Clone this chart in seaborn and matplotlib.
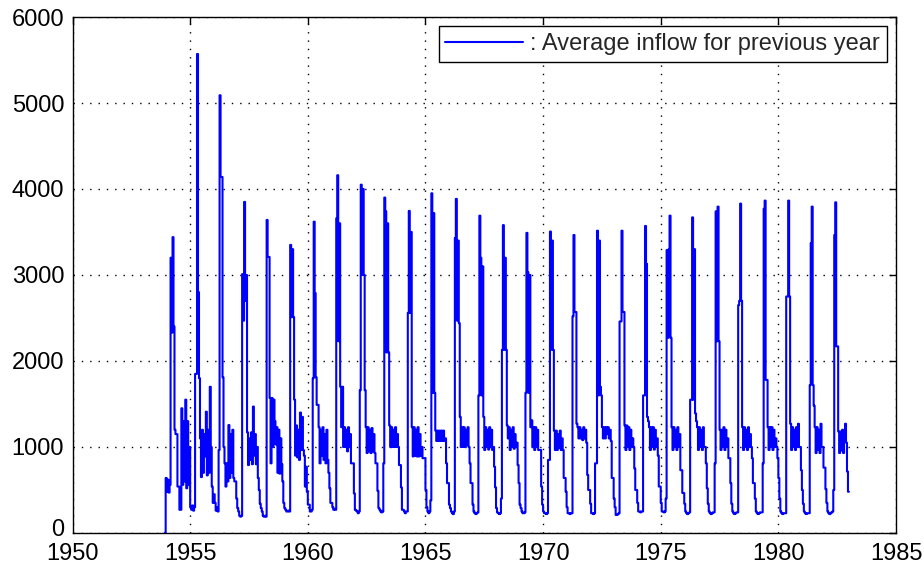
import numpy as np
import pandas as pd
import matplotlib
matplotlib.use("Agg")
import matplotlib.pyplot as plt
import matplotlib.transforms as mtransforms
import seaborn as sns

# Semi-monthly inflow values (24 per year, first value on 1 January).
# The record opens in December 1953.
inflow_1953 = [0, 640]
inflow_1954 = [480, 620, 470, 560, 3200, 2330, 3440, 2400, 1200, 1150, 1150, 540,
               540, 270, 270, 1450, 560, 1300, 600, 1550, 520, 1300, 560, 1000]
inflow_1955 = [300, 270, 320, 260, 300, 1850, 1850, 5570, 2800, 1800, 1100, 650,
               1200, 700, 1150, 890, 1410, 670, 1200, 700, 1700, 1000, 540, 350]
inflow_1956 = [450, 350, 260, 300, 250, 965, 5090, 4140, 4140, 1810, 1000, 810,
               540, 810, 600, 1255, 640, 1150, 700, 1200, 640, 600, 600, 400]
inflow_1957 = [290, 250, 200, 190, 200, 3010, 2470, 3850, 2700, 3000, 1170, 790,
               1100, 850, 1170, 800, 1470, 900, 1150, 800, 1000, 640, 500, 340]
inflow_1958 = [290, 250, 200, 190, 200, 190, 3640, 3210, 3210, 1570, 810, 1570,
               1000, 1550, 1300, 1030, 1230, 700, 1200, 690, 1100, 800, 600, 350]
inflow_1959 = [290, 270, 250, 250, 260, 250, 3350, 2510, 3300, 2510, 1550, 900,
               1250, 880, 1200, 850, 1400, 965, 1350, 965, 900, 540, 770, 480]
inflow_1960 = [330, 330, 250, 250, 270, 1800, 3620, 2790, 1810, 1490, 1490, 1230,
               810, 1200, 900, 1230, 850, 1150, 810, 1200, 850, 700, 520, 350]
inflow_1961 = [350, 300, 270, 280, 270, 3660, 4160, 2230, 3600, 1700, 1230, 1700,
               1000, 1230, 1000, 1200, 950, 1230, 1000, 1150, 810, 810, 810, 460]
inflow_1962 = [270, 260, 250, 230, 250, 1660, 4050, 3000, 4000, 3000, 1660, 1230,
               930, 1230, 950, 1200, 930, 1220, 950, 1150, 930, 810, 810, 490]
inflow_1963 = [290, 270, 250, 240, 250, 810, 3900, 3740, 2100, 3600, 2100, 1250,
               1000, 1230, 1000, 1200, 1000, 1230, 1000, 1150, 1000, 790, 790, 530]
inflow_1964 = [270, 270, 250, 230, 250, 250, 2560, 3745, 2560, 3500, 1230, 890,
               1230, 900, 1200, 890, 1230, 890, 1150, 900, 1000, 870, 870, 870]
inflow_1965 = [500, 300, 250, 230, 250, 380, 3950, 1630, 3720, 1630, 1190, 1070,
               1190, 1070, 1190, 1070, 1190, 1070, 1190, 1070, 1100, 810, 580, 580]
inflow_1966 = [330, 290, 250, 230, 220, 250, 3430, 3885, 2470, 3400, 2440, 1350,
               1000, 1230, 1000, 1230, 1000, 1200, 1020, 1230, 1000, 810, 580, 580]
inflow_1967 = [330, 250, 230, 220, 230, 240, 1600, 3690, 3200, 1600, 3100, 1350,
               965, 1230, 1000, 1200, 970, 1230, 1000, 1200, 965, 1000, 770, 530]
inflow_1968 = [290, 240, 230, 220, 230, 400, 2130, 3580, 2130, 3200, 2130, 1250,
               1100, 1230, 965, 1200, 1000, 1230, 980, 1150, 1000, 1050, 790, 580]
inflow_1969 = [330, 290, 250, 230, 230, 240, 1630, 3490, 3030, 1630, 3000, 1230,
               1310, 1000, 1230, 965, 1230, 1000, 1200, 965, 965, 965, 540, 330]
inflow_1970 = [250, 230, 230, 220, 230, 850, 850, 3505, 2130, 3400, 2130, 1190,
               965, 1190, 965, 1150, 990, 1190, 965, 1100, 965, 640, 640, 480]
inflow_1971 = [300, 230, 230, 220, 230, 230, 2520, 3465, 2570, 2570, 1270, 1230,
               1100, 1230, 1100, 1200, 1080, 1230, 1100, 1200, 1050, 675, 500, 500]
inflow_1972 = [340, 230, 230, 220, 230, 810, 810, 3515, 1600, 3400, 1700, 1600,
               1230, 1100, 1230, 1100, 1230, 1150, 1230, 1100, 1200, 1070, 640, 640]
inflow_1973 = [400, 300, 210, 210, 220, 230, 2460, 2460, 3515, 2570, 2570, 1250,
               965, 1250, 1000, 1230, 965, 1200, 1000, 1100, 1000, 750, 500, 500]
inflow_1974 = [350, 250, 250, 240, 250, 250, 1600, 1600, 3570, 3130, 1350, 1300,
               1230, 965, 1230, 1000, 1230, 970, 1200, 1000, 1100, 900, 540, 540]
inflow_1975 = [350, 250, 250, 240, 250, 400, 3290, 2270, 3300, 3690, 2270, 1230,
               965, 1230, 1000, 1200, 965, 1230, 1000, 1150, 730, 730, 465, 465]
inflow_1976 = [340, 250, 230, 220, 230, 240, 1550, 1550, 3670, 1550, 3300, 1390,
               1300, 1230, 965, 1230, 1000, 1200, 965, 1230, 1000, 1000, 810, 520]
inflow_1977 = [340, 250, 230, 220, 230, 240, 240, 810, 3740, 2230, 3795, 2230,
               1200, 965, 1200, 1000, 1230, 965, 1200, 1000, 1100, 870, 870, 580]
inflow_1978 = [340, 250, 230, 220, 230, 240, 240, 2650, 2700, 3830, 2700, 1230,
               965, 1230, 1000, 1200, 965, 1230, 1000, 1150, 1000, 870, 580, 580]
inflow_1979 = [400, 250, 230, 220, 230, 240, 240, 240, 810, 3770, 3865, 1780,
               1780, 1230, 965, 1230, 1000, 1230, 965, 1200, 1000, 1100, 1000, 870]
inflow_1980 = [640, 400, 250, 230, 220, 230, 230, 230, 2750, 2750, 3865, 2750,
               1270, 965, 1230, 1000, 1200, 965, 1230, 1000, 1270, 1000, 1000, 730]
inflow_1981 = [500, 340, 250, 230, 220, 230, 230, 230, 1720, 3370, 3795, 1720,
               1480, 1230, 930, 1230, 965, 1200, 930, 1270, 1000, 1000, 760, 760]
inflow_1982 = [510, 350, 250, 230, 220, 230, 240, 250, 500, 3465, 3845, 2170,
               2170, 1180, 930, 1180, 960, 1200, 930, 1180, 1270, 1050, 715, 480]
inflow_1983 = [480]

series_label = ": Average inflow for previous year"
x_ticks = [1950, 1955, 1960, 1965, 1970, 1975, 1980, 1985]
y_ticks = [0, 1000, 2000, 3000, 4000, 5000, 6000]

# Assemble one continuous semi-monthly record starting 1 December 1953
values = (inflow_1953 + inflow_1954 + inflow_1955 + inflow_1956 + inflow_1957
          + inflow_1958 + inflow_1959 + inflow_1960 + inflow_1961 + inflow_1962
          + inflow_1963 + inflow_1964 + inflow_1965 + inflow_1966 + inflow_1967
          + inflow_1968 + inflow_1969 + inflow_1970 + inflow_1971 + inflow_1972
          + inflow_1973 + inflow_1974 + inflow_1975 + inflow_1976 + inflow_1977
          + inflow_1978 + inflow_1979 + inflow_1980 + inflow_1981 + inflow_1982
          + inflow_1983)
start = 1953 + 22 / 24
time = start + np.arange(len(values)) / 24
df = pd.DataFrame({"year": time, "inflow": values})

sns.set_style("white")
plt.rcParams["font.family"] = ["Liberation Sans", "DejaVu Sans"]

fig = plt.figure(figsize=(9.24, 5.63), dpi=100)
ax = fig.add_axes([0.0785, 0.0533, 0.8912, 0.9165])

sns.lineplot(data=df, x="year", y="inflow", ax=ax, estimator=None, sort=False,
             drawstyle="steps-post", color="#0000ff", linewidth=1.5,
             label=series_label, zorder=3)

ax.set_xlim(1950, 1985)
ax.set_ylim(0, 6000)
ax.set_xticks(x_ticks)
ax.set_yticks(y_ticks)
ax.set_xticklabels([str(t) for t in x_ticks])
ax.set_yticklabels([str(t) for t in y_ticks])
ax.set_xlabel("")
ax.set_ylabel("")

ax.grid(True, color="black", linestyle=(0, (1, 5)), linewidth=1.0, zorder=0)
ax.set_axisbelow(True)
for side in ["left", "right", "top", "bottom"]:
    ax.spines[side].set_visible(True)
    ax.spines[side].set_color("black")
    ax.spines[side].set_linewidth(1.0)
ax.tick_params(axis="both", direction="in", length=5, width=1, colors="black",
               top=True, right=True, labelsize=17)
ax.tick_params(axis="y", pad=6)
ax.tick_params(axis="x", pad=7)

# Lift the "0" label a little so it clears the first year label below it
zero_label = ax.yaxis.get_major_ticks()[0].label1
zero_label.set_transform(zero_label.get_transform()
                         + mtransforms.ScaledTranslation(0, 4 / 72, fig.dpi_scale_trans))

leg = ax.legend(loc="upper right", frameon=True, fancybox=False, shadow=False,
                edgecolor="black", facecolor="white", framealpha=1,
                fontsize=17, handlelength=3.3, handletextpad=0.3,
                borderpad=0.28, borderaxespad=0.4)
leg.get_frame().set_linewidth(1.0)

fig.savefig("out.png", dpi=100)
